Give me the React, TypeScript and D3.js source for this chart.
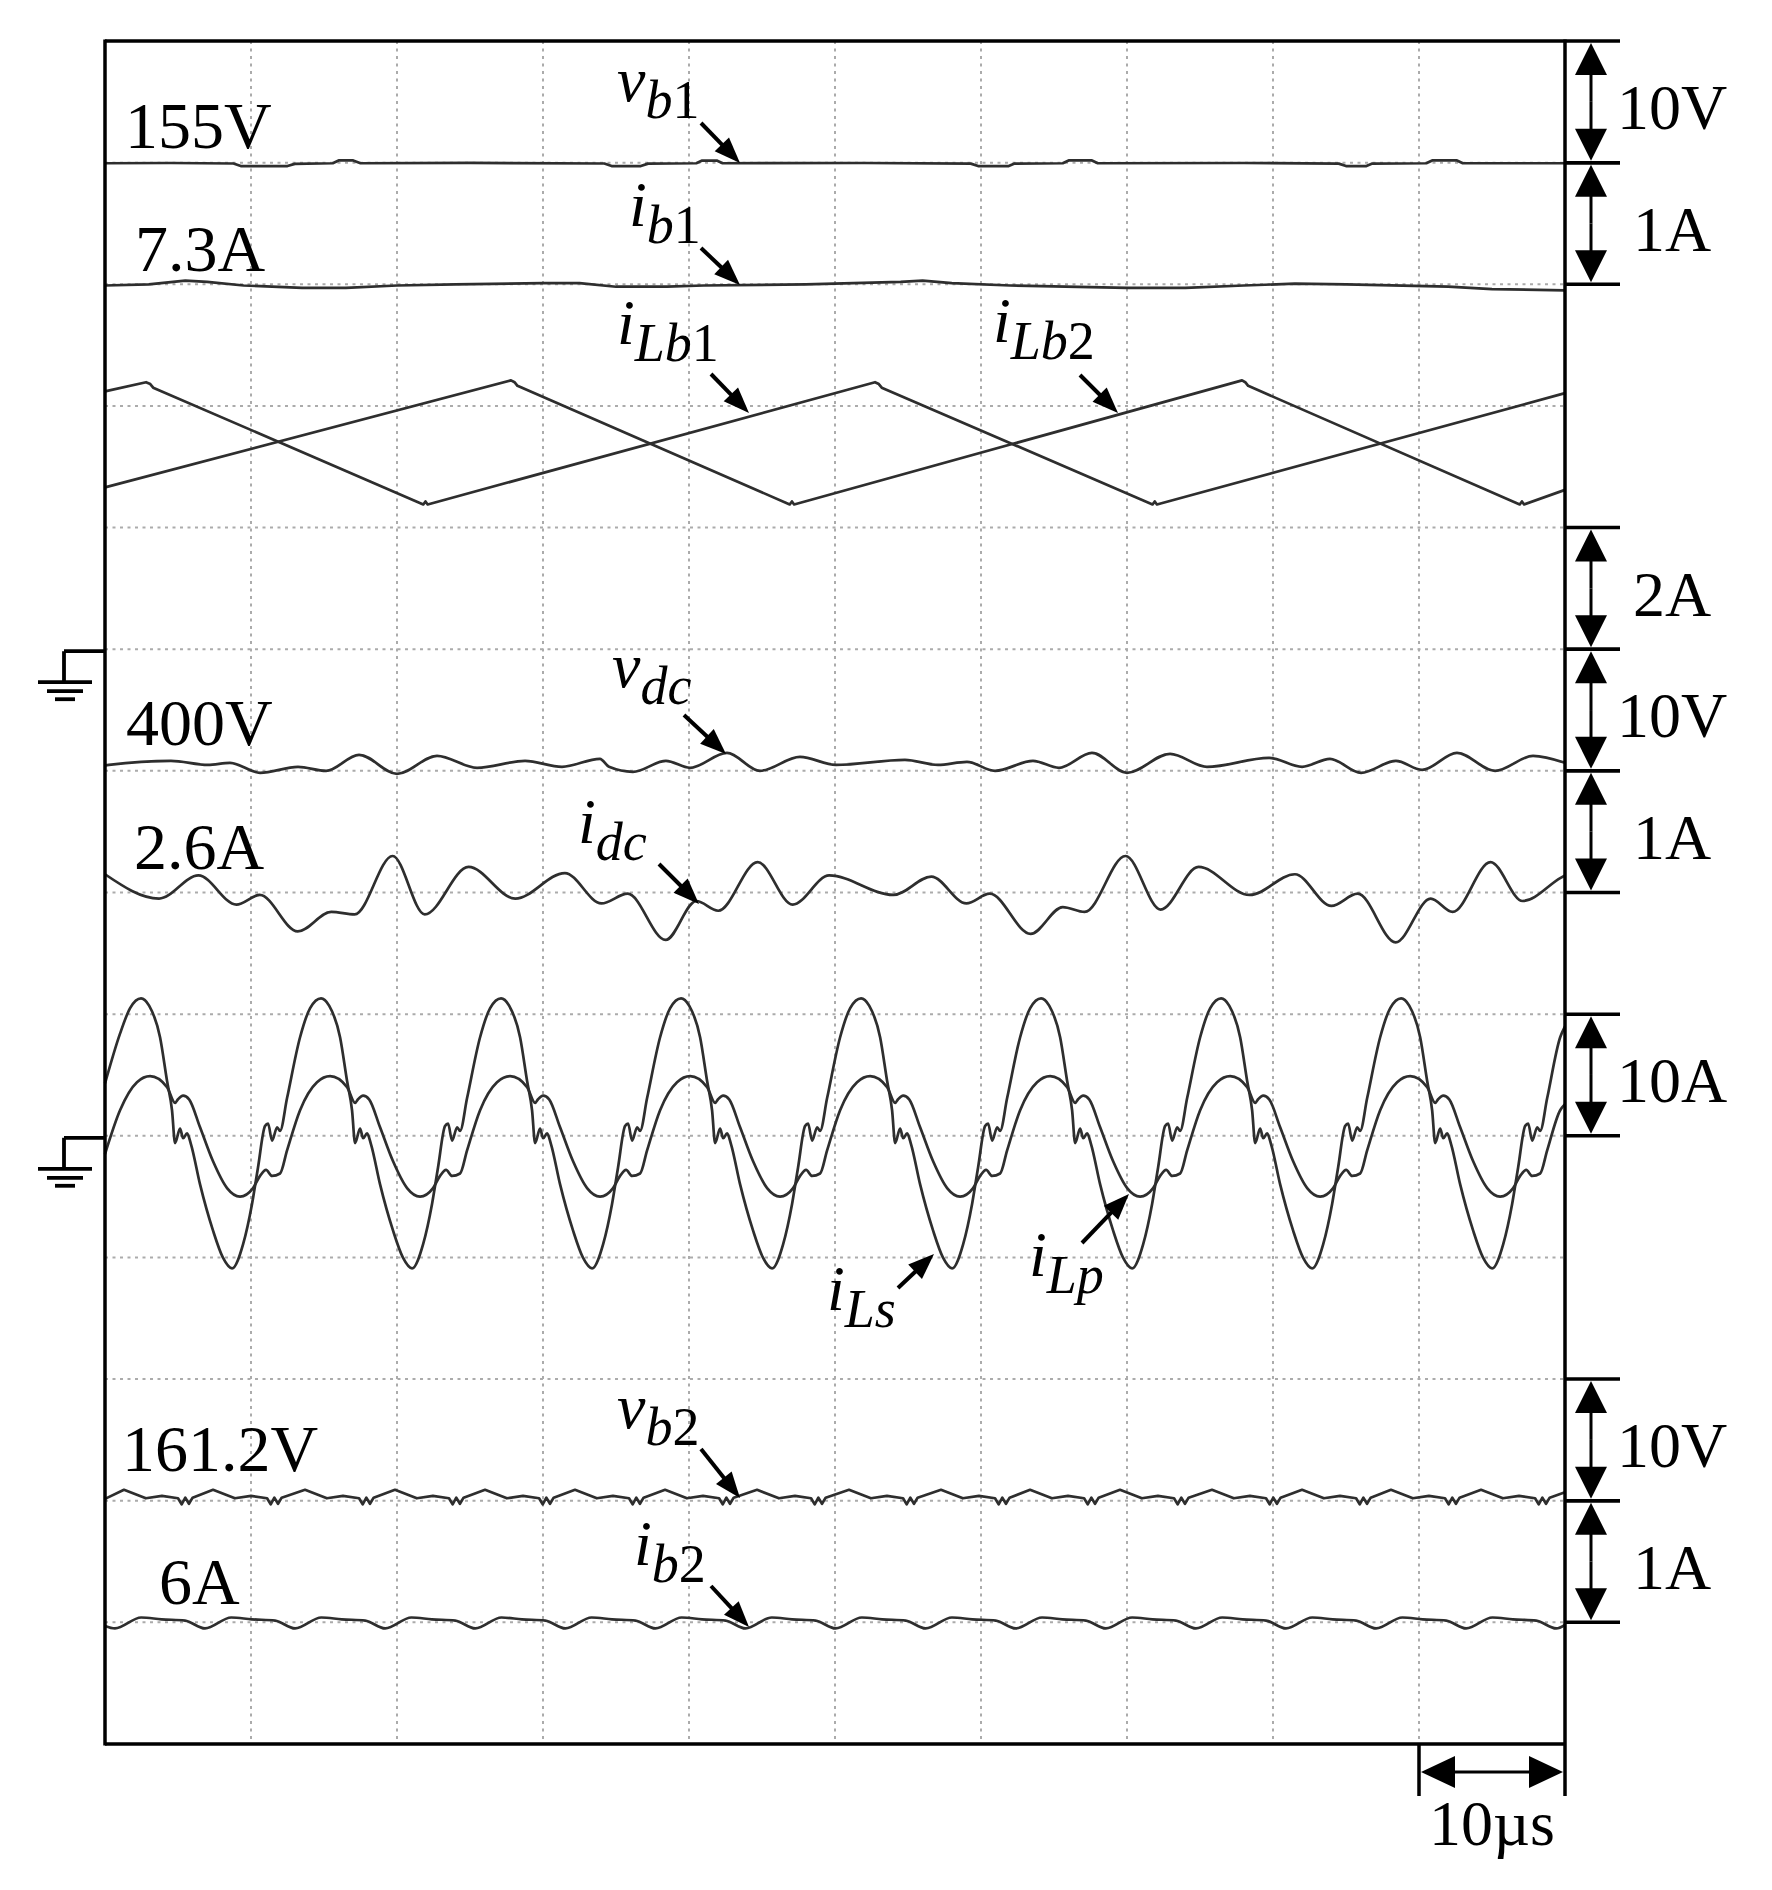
import * as d3 from 'd3'

type Pt = [number, number] // [time µs, value in channel units]

// time base: 10 µs/div, 10 divisions; 14 vertical divisions
const timeSpan: [number, number] = [0, 100]
const divsX = 10
const divsY = 14

const vb1: Pt[] = [
  [0, 154.95], [4.5, 154.97], [8.8, 154.93], [9.3, 154.72], [12.5, 154.72], [13.0, 154.9], [15.6, 154.95],
  [16.0, 155.18], [17.0, 155.18], [17.5, 154.95], [25, 154.98], [34.2, 154.93], [34.7, 154.72], [36.7, 154.72],
  [37.2, 154.92], [40.5, 154.95], [40.9, 155.17], [41.9, 155.17], [42.3, 154.95], [52, 154.97], [59.3, 154.92],
  [59.8, 154.72], [61.9, 154.72], [62.3, 154.92], [65.6, 154.95], [66.0, 155.18], [67.6, 155.18], [68.0, 154.95],
  [78, 154.97], [84.5, 154.92], [85.0, 154.72], [86.4, 154.72], [86.8, 154.92], [90.5, 154.95], [90.9, 155.18],
  [92.6, 155.18], [93.0, 154.95], [100, 154.95],
]

const ib1: Pt[] = [
  [0, 7.29], [3.0, 7.30], [5.5, 7.33], [7.0, 7.32], [9.5, 7.29], [13.5, 7.27], [16.5, 7.27], [20.0, 7.29],
  [24.0, 7.3], [30.0, 7.31], [32.5, 7.31], [35.0, 7.28], [38.5, 7.28], [41.0, 7.29], [48.0, 7.3], [54.5, 7.32],
  [56.0, 7.33], [58.0, 7.31], [62.0, 7.29], [70.0, 7.27], [74.0, 7.27], [78.0, 7.29], [81.5, 7.305], [85.0, 7.3],
  [92.0, 7.28], [95.0, 7.26], [100, 7.25],
]

const iLb1: Pt[] = [
  [0, 4.24], [2.81, 4.39], [3.1, 4.36], [3.3, 4.3], [21.8, 2.38], [21.95, 2.43], [22.1, 2.38], [52.74, 4.39],
  [53.0, 4.36], [53.2, 4.3], [71.75, 2.38], [71.9, 2.43], [72.05, 2.38], [100, 4.21],
]

const iLb2: Pt[] = [
  [0, 2.66], [27.81, 4.42], [28.05, 4.39], [28.25, 4.33], [46.9, 2.38], [47.05, 2.43], [47.2, 2.38], [77.88, 4.42],
  [78.1, 4.39], [78.3, 4.33], [96.9, 2.38], [97.05, 2.43], [97.2, 2.38], [100, 2.62],
]

const vdc: Pt[] = [
  [0, 400.45], [0.27, 400.49], [4.52, 400.82], [7.05, 400.49], [8.56, 400.66], [10.62, 399.84], [13.22, 400.33],
  [15.14, 400.0], [17.4, 401.32], [20.0, 399.75], [22.74, 401.23], [25.48, 400.25], [28.77, 400.82], [31.3, 400.33],
  [33.9, 400.99], [34.52, 400.33], [36.16, 399.92], [38.42, 400.82], [40.07, 400.25], [42.6, 401.48], [44.86, 400.0],
  [47.6, 401.15], [50.07, 400.49], [54.79, 400.9], [57.05, 400.49], [59.04, 400.74], [60.96, 400.0], [63.56, 400.82],
  [65.34, 400.25], [67.6, 401.48], [70.0, 399.84], [72.95, 401.4], [75.48, 400.33], [79.73, 401.07], [81.99, 400.33],
  [83.9, 400.99], [86.03, 399.84], [88.42, 400.82], [90.21, 400.08], [92.6, 401.48], [95.21, 400.0], [97.81, 401.23],
  [100, 400.66],
]

const idc: Pt[] = [
  [0, 2.75], [3.7, 2.55], [6.4, 2.74], [9.0, 2.5], [10.6, 2.58], [13.2, 2.28], [15.5, 2.44], [17.1, 2.42],
  [19.7, 2.9], [21.9, 2.42], [24.9, 2.81], [28.1, 2.55], [31.5, 2.76], [34.0, 2.51], [35.8, 2.59], [38.4, 2.21],
  [40.5, 2.53], [42.0, 2.45], [44.7, 2.85], [47.1, 2.5], [49.6, 2.74], [54.0, 2.58], [56.6, 2.73], [59.0, 2.51],
  [60.6, 2.59], [63.4, 2.26], [65.6, 2.48], [67.1, 2.44], [69.9, 2.9], [72.3, 2.46], [74.9, 2.81], [78.4, 2.58],
  [81.5, 2.75], [84.0, 2.49], [85.8, 2.59], [88.4, 2.19], [90.8, 2.55], [92.3, 2.44], [94.9, 2.85], [97.1, 2.53],
  [99.7, 2.72], [100, 2.74],
]

const iLs: Pt[] = [
  [0, 4.3], [1.03, 8.4], [1.72, 10.5],
  [2.47, 11.3], [3.02, 10.7], [3.77, 8.1], [4.25, 4.5], [4.59, 2.1], [4.8, -0.6], [5.14, 0.6], [5.35, -0.2], [5.62, 0.2], [5.89, -0.7], [6.51, -4.0], [7.4, -7.8], [8.07, -10.0], [8.7, -10.9], [9.46, -8.9], [10.07, -5.6], [10.48, -2.6], [10.96, 0.8], [11.17, 1.0], [11.44, -0.4], [11.79, 0.7], [11.99, 0.4], [12.47, 3.1], [13.36, 8.1], [14.05, 10.5],
  [14.8, 11.3], [15.35, 10.7], [16.1, 8.1], [16.58, 4.5], [16.92, 2.1], [17.13, -0.6], [17.47, 0.6], [17.68, -0.2], [17.95, 0.2], [18.22, -0.7], [18.84, -4.0], [19.73, -7.8], [20.4, -10.0], [21.03, -10.9], [21.79, -8.9], [22.4, -5.6], [22.81, -2.6], [23.29, 0.8], [23.5, 1.0], [23.77, -0.4], [24.12, 0.7], [24.32, 0.4], [24.8, 3.1], [25.69, 8.1], [26.38, 10.5],
  [27.13, 11.3], [27.68, 10.7], [28.43, 8.1], [28.91, 4.5], [29.25, 2.1], [29.46, -0.6], [29.8, 0.6], [30.01, -0.2], [30.28, 0.2], [30.55, -0.7], [31.17, -4.0], [32.06, -7.8], [32.73, -10.0], [33.36, -10.9], [34.12, -8.9], [34.73, -5.6], [35.14, -2.6], [35.62, 0.8], [35.83, 1.0], [36.1, -0.4], [36.45, 0.7], [36.65, 0.4], [37.13, 3.1], [38.02, 8.1], [38.71, 10.5],
  [39.46, 11.3], [40.01, 10.7], [40.76, 8.1], [41.24, 4.5], [41.58, 2.1], [41.79, -0.6], [42.13, 0.6], [42.34, -0.2], [42.61, 0.2], [42.88, -0.7], [43.5, -4.0], [44.39, -7.8], [45.06, -10.0], [45.69, -10.9], [46.45, -8.9], [47.06, -5.6], [47.47, -2.6], [47.95, 0.8], [48.16, 1.0], [48.43, -0.4], [48.78, 0.7], [48.98, 0.4], [49.46, 3.1], [50.35, 8.1], [51.04, 10.5],
  [51.79, 11.3], [52.34, 10.7], [53.09, 8.1], [53.57, 4.5], [53.91, 2.1], [54.12, -0.6], [54.46, 0.6], [54.67, -0.2], [54.94, 0.2], [55.21, -0.7], [55.83, -4.0], [56.72, -7.8], [57.39, -10.0], [58.02, -10.9], [58.78, -8.9], [59.39, -5.6], [59.8, -2.6], [60.28, 0.8], [60.49, 1.0], [60.76, -0.4], [61.11, 0.7], [61.31, 0.4], [61.79, 3.1], [62.68, 8.1], [63.37, 10.5],
  [64.12, 11.3], [64.67, 10.7], [65.42, 8.1], [65.9, 4.5], [66.24, 2.1], [66.45, -0.6], [66.79, 0.6], [67.0, -0.2], [67.27, 0.2], [67.54, -0.7], [68.16, -4.0], [69.05, -7.8], [69.72, -10.0], [70.35, -10.9], [71.11, -8.9], [71.72, -5.6], [72.13, -2.6], [72.61, 0.8], [72.82, 1.0], [73.09, -0.4], [73.44, 0.7], [73.64, 0.4], [74.12, 3.1], [75.01, 8.1], [75.7, 10.5],
  [76.45, 11.3], [77.0, 10.7], [77.75, 8.1], [78.23, 4.5], [78.57, 2.1], [78.78, -0.6], [79.12, 0.6], [79.33, -0.2], [79.6, 0.2], [79.87, -0.7], [80.49, -4.0], [81.38, -7.8], [82.05, -10.0], [82.68, -10.9], [83.44, -8.9], [84.05, -5.6], [84.46, -2.6], [84.94, 0.8], [85.15, 1.0], [85.42, -0.4], [85.77, 0.7], [85.97, 0.4], [86.45, 3.1], [87.34, 8.1], [88.03, 10.5],
  [88.78, 11.3], [89.33, 10.7], [90.08, 8.1], [90.56, 4.5], [90.9, 2.1], [91.11, -0.6], [91.45, 0.6], [91.66, -0.2], [91.93, 0.2], [92.2, -0.7], [92.82, -4.0], [93.71, -7.8], [94.38, -10.0], [95.01, -10.9], [95.77, -8.9], [96.38, -5.6], [96.79, -2.6], [97.27, 0.8], [97.48, 1.0], [97.75, -0.4], [98.1, 0.7], [98.3, 0.4], [98.78, 3.1], [99.67, 8.1], [100, 9.0],
]

const iLp: Pt[] = [
  [0, -1.5], [1.03, 2.1], [2.19, 4.4],
  [3.09, 4.9], [4.25, 4.0], [4.8, 2.7], [5.0, 3.0], [5.35, 3.3], [5.76, 3.0], [6.51, 0.7], [7.4, -2.1], [8.36, -4.3], [9.25, -5.0], [10.14, -4.3], [10.62, -3.3], [11.03, -2.8], [11.44, -3.3], [11.99, -3.1], [12.47, -1.2], [13.36, 2.1], [14.52, 4.4],
  [15.42, 4.9], [16.58, 4.0], [17.13, 2.7], [17.33, 3.0], [17.68, 3.3], [18.09, 3.0], [18.84, 0.7], [19.73, -2.1], [20.69, -4.3], [21.58, -5.0], [22.47, -4.3], [22.95, -3.3], [23.36, -2.8], [23.77, -3.3], [24.32, -3.1], [24.8, -1.2], [25.69, 2.1], [26.85, 4.4],
  [27.75, 4.9], [28.91, 4.0], [29.46, 2.7], [29.66, 3.0], [30.01, 3.3], [30.42, 3.0], [31.17, 0.7], [32.06, -2.1], [33.02, -4.3], [33.91, -5.0], [34.8, -4.3], [35.28, -3.3], [35.69, -2.8], [36.1, -3.3], [36.65, -3.1], [37.13, -1.2], [38.02, 2.1], [39.18, 4.4],
  [40.08, 4.9], [41.24, 4.0], [41.79, 2.7], [41.99, 3.0], [42.34, 3.3], [42.75, 3.0], [43.5, 0.7], [44.39, -2.1], [45.35, -4.3], [46.24, -5.0], [47.13, -4.3], [47.61, -3.3], [48.02, -2.8], [48.43, -3.3], [48.98, -3.1], [49.46, -1.2], [50.35, 2.1], [51.51, 4.4],
  [52.41, 4.9], [53.57, 4.0], [54.12, 2.7], [54.32, 3.0], [54.67, 3.3], [55.08, 3.0], [55.83, 0.7], [56.72, -2.1], [57.68, -4.3], [58.57, -5.0], [59.46, -4.3], [59.94, -3.3], [60.35, -2.8], [60.76, -3.3], [61.31, -3.1], [61.79, -1.2], [62.68, 2.1], [63.84, 4.4],
  [64.74, 4.9], [65.9, 4.0], [66.45, 2.7], [66.65, 3.0], [67.0, 3.3], [67.41, 3.0], [68.16, 0.7], [69.05, -2.1], [70.01, -4.3], [70.9, -5.0], [71.79, -4.3], [72.27, -3.3], [72.68, -2.8], [73.09, -3.3], [73.64, -3.1], [74.12, -1.2], [75.01, 2.1], [76.17, 4.4],
  [77.07, 4.9], [78.23, 4.0], [78.78, 2.7], [78.98, 3.0], [79.33, 3.3], [79.74, 3.0], [80.49, 0.7], [81.38, -2.1], [82.34, -4.3], [83.23, -5.0], [84.12, -4.3], [84.6, -3.3], [85.01, -2.8], [85.42, -3.3], [85.97, -3.1], [86.45, -1.2], [87.34, 2.1], [88.5, 4.4],
  [89.4, 4.9], [90.56, 4.0], [91.11, 2.7], [91.31, 3.0], [91.66, 3.3], [92.07, 3.0], [92.82, 0.7], [93.71, -2.1], [94.67, -4.3], [95.56, -5.0], [96.45, -4.3], [96.93, -3.3], [97.34, -2.8], [97.75, -3.3], [98.3, -3.1], [98.78, -1.2], [99.67, 2.1], [100, 2.6],
]

const vb2: Pt[] = [
  [0, 161.35],
  [1.3, 162.1], [2.8, 161.4], [3.9, 161.6], [5.0, 161.4], [5.25, 160.9], [5.5, 161.45], [5.75, 160.95], [6.0, 161.45],
  [7.4, 162.1], [8.9, 161.4], [10.0, 161.6], [11.1, 161.4], [11.35, 160.9], [11.6, 161.45], [11.85, 160.95], [12.1, 161.45],
  [13.7, 162.1], [15.2, 161.4], [16.3, 161.6], [17.4, 161.4], [17.65, 160.9], [17.9, 161.45], [18.15, 160.95], [18.4, 161.45],
  [19.86, 162.1], [21.36, 161.4], [22.46, 161.6], [23.56, 161.4], [23.81, 160.9], [24.06, 161.45], [24.31, 160.95], [24.56, 161.45],
  [26.03, 162.1], [27.53, 161.4], [28.63, 161.6], [29.73, 161.4], [29.98, 160.9], [30.23, 161.45], [30.48, 160.95], [30.73, 161.45],
  [32.19, 162.1], [33.69, 161.4], [34.79, 161.6], [35.89, 161.4], [36.14, 160.9], [36.39, 161.45], [36.64, 160.95], [36.89, 161.45],
  [38.36, 162.1], [39.86, 161.4], [40.96, 161.6], [42.06, 161.4], [42.31, 160.9], [42.56, 161.45], [42.81, 160.95], [43.06, 161.45],
  [44.66, 162.1], [46.16, 161.4], [47.26, 161.6], [48.36, 161.4], [48.61, 160.9], [48.86, 161.45], [49.11, 160.95], [49.36, 161.45],
  [50.96, 162.1], [52.46, 161.4], [53.56, 161.6], [54.66, 161.4], [54.91, 160.9], [55.16, 161.45], [55.41, 160.95], [55.66, 161.45],
  [57.26, 162.1], [58.76, 161.4], [59.86, 161.6], [60.96, 161.4], [61.21, 160.9], [61.46, 161.45], [61.71, 160.95], [61.96, 161.45],
  [63.36, 162.1], [64.86, 161.4], [65.96, 161.6], [67.06, 161.4], [67.31, 160.9], [67.56, 161.45], [67.81, 160.95], [68.06, 161.45],
  [69.52, 162.1], [71.02, 161.4], [72.12, 161.6], [73.22, 161.4], [73.47, 160.9], [73.72, 161.45], [73.97, 160.95], [74.22, 161.45],
  [75.82, 162.1], [77.32, 161.4], [78.42, 161.6], [79.52, 161.4], [79.77, 160.9], [80.02, 161.45], [80.27, 160.95], [80.52, 161.45],
  [81.99, 162.1], [83.49, 161.4], [84.59, 161.6], [85.69, 161.4], [85.94, 160.9], [86.19, 161.45], [86.44, 160.95], [86.69, 161.45],
  [88.08, 162.1], [89.58, 161.4], [90.68, 161.6], [91.78, 161.4], [92.03, 160.9], [92.28, 161.45], [92.53, 160.95], [92.78, 161.45],
  [94.25, 162.1], [95.75, 161.4], [96.85, 161.6], [97.95, 161.4], [98.2, 160.9], [98.45, 161.45], [98.7, 160.95], [98.95, 161.45],
  [100, 161.9],
]

const ib2: Pt[] = [
  [0, 5.97],
  [0.68, 5.95], [2.48, 6.04], [3.88, 6.025], [5.48, 6.015],
  [6.85, 5.95], [8.65, 6.04], [10.05, 6.025], [11.65, 6.015],
  [13.02, 5.95], [14.82, 6.04], [16.22, 6.025], [17.82, 6.015],
  [19.19, 5.95], [20.99, 6.04], [22.39, 6.025], [23.99, 6.015],
  [25.36, 5.95], [27.16, 6.04], [28.56, 6.025], [30.16, 6.015],
  [31.53, 5.95], [33.33, 6.04], [34.73, 6.025], [36.33, 6.015],
  [37.7, 5.95], [39.5, 6.04], [40.9, 6.025], [42.5, 6.015],
  [43.87, 5.95], [45.67, 6.04], [47.07, 6.025], [48.67, 6.015],
  [50.04, 5.95], [51.84, 6.04], [53.24, 6.025], [54.84, 6.015],
  [56.21, 5.95], [58.01, 6.04], [59.41, 6.025], [61.01, 6.015],
  [62.38, 5.95], [64.18, 6.04], [65.58, 6.025], [67.18, 6.015],
  [68.55, 5.95], [70.35, 6.04], [71.75, 6.025], [73.35, 6.015],
  [74.72, 5.95], [76.52, 6.04], [77.92, 6.025], [79.52, 6.015],
  [80.89, 5.95], [82.69, 6.04], [84.09, 6.025], [85.69, 6.015],
  [87.06, 5.95], [88.86, 6.04], [90.26, 6.025], [91.86, 6.015],
  [93.23, 5.95], [95.03, 6.04], [96.43, 6.025], [98.03, 6.015],
  [99.4, 5.95], [100, 5.98],
]

// reference level (value at its grid line), grid line index, units per division
type Channel = { key: string; points: Pt[]; ref: number; div: number; perDiv: number; smooth: boolean }

const channels: Channel[] = [
  { key: 'vb1', points: vb1, ref: 155, div: 1, perDiv: 10, smooth: false },
  { key: 'ib1', points: ib1, ref: 7.3, div: 2, perDiv: 1, smooth: false },
  { key: 'iLb1', points: iLb1, ref: 0, div: 5, perDiv: 2, smooth: false },
  { key: 'iLb2', points: iLb2, ref: 0, div: 5, perDiv: 2, smooth: false },
  { key: 'vdc', points: vdc, ref: 400, div: 6, perDiv: 10, smooth: true },
  { key: 'idc', points: idc, ref: 2.6, div: 7, perDiv: 1, smooth: true },
  { key: 'iLs', points: iLs, ref: 0, div: 9, perDiv: 10, smooth: true },
  { key: 'iLp', points: iLp, ref: 0, div: 9, perDiv: 10, smooth: true },
  { key: 'vb2', points: vb2, ref: 161.2, div: 12, perDiv: 10, smooth: false },
  { key: 'ib2', points: ib2, ref: 6, div: 13, perDiv: 1, smooth: true },
]

const scaleBars = [
  { label: '10V', from: 0, to: 1 },
  { label: '1A', from: 1, to: 2 },
  { label: '2A', from: 4, to: 5 },
  { label: '10V', from: 5, to: 6 },
  { label: '1A', from: 6, to: 7 },
  { label: '10A', from: 8, to: 9 },
  { label: '10V', from: 11, to: 12 },
  { label: '1A', from: 12, to: 13 },
]

const levelLabels = ['155V', '7.3A', '400V', '2.6A', '161.2V', '6A']
const groundDivs = [5, 9]
const traceNames = [
  { main: 'v', sub: 'b1' },
  { main: 'i', sub: 'b1' },
  { main: 'i', sub: 'Lb1' },
  { main: 'i', sub: 'Lb2' },
  { main: 'v', sub: 'dc' },
  { main: 'i', sub: 'dc' },
  { main: 'i', sub: 'Ls' },
  { main: 'i', sub: 'Lp' },
  { main: 'v', sub: 'b2' },
  { main: 'i', sub: 'b2' },
]
const timeBarLabel = '10µs'

const serif = "'Liberation Serif', 'Times New Roman', Times, serif"

function Arrow({ x1, y1, x2, y2, head, half, sw }: { x1: number; y1: number; x2: number; y2: number; head: number; half: number; sw: number }) {
  const a = Math.atan2(y2 - y1, x2 - x1)
  const bx = x2 - head * Math.cos(a)
  const by = y2 - head * Math.sin(a)
  const px = half * Math.sin(a)
  const py = half * Math.cos(a)
  return (
    <g>
      <line x1={x1} y1={y1} x2={bx + 2 * Math.cos(a)} y2={by + 2 * Math.sin(a)} stroke="#000" strokeWidth={sw} />
      <polygon points={`${x2},${y2} ${bx + px},${by - py} ${bx - px},${by + py}`} fill="#000" />
    </g>
  )
}

function Sub({ text }: { text: string }) {
  return (
    <>
      {text.split('').map((ch, i) => (
        <tspan key={i} fontStyle={/\d/.test(ch) ? 'normal' : 'italic'}>
          {ch}
        </tspan>
      ))}
    </>
  )
}

export default function App() {
  const W = 1772
  const H = 1890
  const left = 105
  const right = 1565
  const top = 41
  const bottom = 1744

  const x = d3.scaleLinear().domain(timeSpan).range([left, right])
  const gy = d3.scaleLinear().domain([0, divsY]).range([top, bottom])
  const xTicks = d3.range(1, divsX).map((i) => timeSpan[0] + (i * (timeSpan[1] - timeSpan[0])) / divsX)
  const yTicks = d3.range(1, divsY)

  const pathOf = (c: Channel) =>
    d3
      .line<Pt>()
      .x((d) => x(d[0]))
      .y((d) => gy(c.div - (d[1] - c.ref) / c.perDiv))
      .curve(c.smooth ? d3.curveMonotoneX : d3.curveLinear)(c.points) ?? undefined

  // label placements (x, baseline) for level texts and trace names + arrows
  const levelPos = [
    [125, 148], [135, 271], [126, 745], [134, 869], [122, 1471], [159, 1604],
  ]
  const namePos = [
    { x: 617, y: 101, ax: [701, 123, 740, 163] },
    { x: 629, y: 226, ax: [701, 248, 740, 285] },
    { x: 617, y: 344, ax: [711, 374, 749, 413] },
    { x: 993, y: 342, ax: [1080, 375, 1118, 413] },
    { x: 612, y: 687, ax: [684, 715, 726, 754] },
    { x: 578, y: 843, ax: [659, 864, 699, 904] },
    { x: 827, y: 1310, ax: [898, 1288, 934, 1254] },
    { x: 1029, y: 1276, ax: [1082, 1243, 1129, 1194] },
    { x: 617, y: 1428, ax: [701, 1449, 740, 1498] },
    { x: 634, y: 1565, ax: [711, 1586, 749, 1627] },
  ]

  return (
    <svg width={W} height={H} style={{ position: 'absolute', left: 0, top: 0, background: '#fff' }} fontFamily={serif}>
      <rect width={W} height={H} fill="#fff" />
      {/* grid */}
      <g stroke="#ababab" strokeWidth={2} strokeDasharray="3 4.5">
        {xTicks.map((t) => (
          <line key={`gx${t}`} x1={x(t)} x2={x(t)} y1={top} y2={bottom} />
        ))}
        {yTicks.map((d) => (
          <line key={`gy${d}`} x1={left} x2={right} y1={gy(d)} y2={gy(d)} />
        ))}
      </g>

      {/* traces */}
      <g fill="none" stroke="#2e2e2e" strokeWidth={2.7} strokeLinejoin="round">
        {channels.map((c) => (
          <path key={c.key} d={pathOf(c)} />
        ))}
      </g>

      {/* frame */}
      <g stroke="#000" strokeWidth={3.5} fill="none">
        <line x1={left} x2={left} y1={top - 1.5} y2={bottom + 1.5} />
        <line x1={right} x2={right} y1={top - 1.5} y2={bottom + 52} />
        <line x1={left} x2={right} y1={top} y2={top} />
        <line x1={left} x2={right} y1={bottom} y2={bottom} />
      </g>

      {/* scale bars */}
      {scaleBars.map((b, i) => {
        const y1 = gy(b.from)
        const y2 = gy(b.to)
        return (
          <g key={`sb${i}`}>
            <line x1={right} x2={1620} y1={y1} y2={y1} stroke="#000" strokeWidth={3.5} />
            <line x1={right} x2={1620} y1={y2} y2={y2} stroke="#000" strokeWidth={3.5} />
            <Arrow x1={1591} y1={(y1 + y2) / 2} x2={1591} y2={y1 + 2} head={32} half={16} sw={3} />
            <Arrow x1={1591} y1={(y1 + y2) / 2} x2={1591} y2={y2 - 2} head={32} half={16} sw={3} />
            <text x={1672} y={y1 + 88} fontSize={64} textAnchor="middle" fill="#000">
              {b.label}
            </text>
          </g>
        )
      })}

      {/* ground markers */}
      {groundDivs.map((d) => {
        const y0 = gy(d) + 2
        return (
          <g key={`gnd${d}`} stroke="#000" strokeWidth={3.8}>
            <line x1={64} x2={left} y1={y0} y2={y0} />
            <line x1={64} x2={64} y1={y0} y2={y0 + 31} />
            <line x1={38} x2={92} y1={y0 + 31} y2={y0 + 31} />
            <line x1={47} x2={83} y1={y0 + 40} y2={y0 + 40} />
            <line x1={55} x2={75} y1={y0 + 48} y2={y0 + 48} />
          </g>
        )
      })}

      {/* level labels */}
      {levelLabels.map((t, i) => (
        <text key={t} x={levelPos[i][0]} y={levelPos[i][1]} fontSize={66} fill="#000">
          {t}
        </text>
      ))}

      {/* trace names with arrows */}
      {traceNames.map((n, i) => {
        const p = namePos[i]
        return (
          <g key={`tn${i}`}>
            <text x={p.x} y={p.y} fontSize={64} fill="#000">
              <tspan fontStyle="italic">{n.main}</tspan>
              <tspan fontSize={54} dy={17}>
                <Sub text={n.sub} />
              </tspan>
            </text>
            <Arrow x1={p.ax[0]} y1={p.ax[1]} x2={p.ax[2]} y2={p.ax[3]} head={26} half={10} sw={4} />
          </g>
        )
      })}

      {/* time scale */}
      <g>
        <line x1={x(90)} x2={x(90)} y1={bottom} y2={bottom + 52} stroke="#000" strokeWidth={3.5} />
        <Arrow x1={(x(90) + x(100)) / 2} y1={1772} x2={x(90) + 2} y2={1772} head={34} half={16} sw={3} />
        <Arrow x1={(x(90) + x(100)) / 2} y1={1772} x2={x(100) - 2} y2={1772} head={34} half={16} sw={3} />
        <text x={(x(90) + x(100)) / 2} y={1845} fontSize={64} textAnchor="middle" fill="#000">
          {timeBarLabel}
        </text>
      </g>
    </svg>
  )
}
